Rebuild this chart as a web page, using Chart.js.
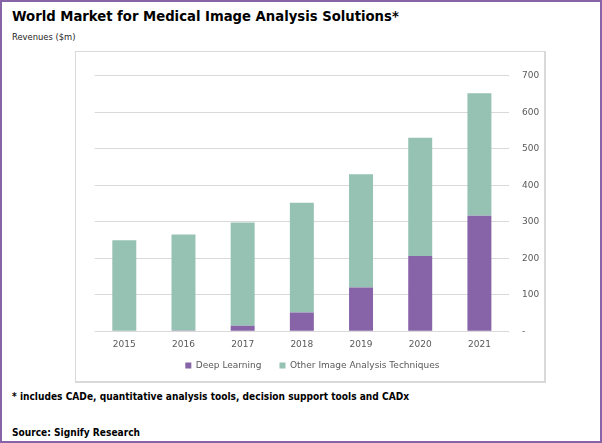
<!DOCTYPE html>
<html>
<head>
<meta charset="utf-8">
<script src="https://cdn.jsdelivr.net/npm/chart.js@4.4.1/dist/chart.umd.min.js"></script>
<style>
  html, body { margin:0; padding:0; background:#fff; }
  #frame { position:absolute; left:0; top:0; width:598px; height:439px; border:2px solid #8763a8; }
  .txt { position:absolute; white-space:nowrap; color:#000; font-family:"DejaVu Sans Condensed","DejaVu Sans",sans-serif; }
  #title { left:12px; top:7px; font-size:14.7px; font-weight:bold; line-height:18px; }
  #subtitle { left:12px; top:30px; font-size:9.3px; line-height:14px; color:#222; }
  #note { left:12px; top:390px; font-size:10.1px; font-weight:bold; line-height:14px; }
  #source { left:12px; top:426px; font-size:10.1px; font-weight:bold; line-height:14px; }
  #box { position:absolute; left:75px; top:51px; width:468px; height:329px; border:1px solid #d9d9d9; border-right:2px solid #d9d9d9; border-bottom:2px solid #d9d9d9; }
  #wrap { position:absolute; left:76px; top:52px; width:468px; height:329px; }
</style>
</head>
<body>
<div id="frame"></div>
<div class="txt" id="title">World Market for Medical Image Analysis Solutions*</div>
<div class="txt" id="subtitle">Revenues ($m)</div>
<div id="box"></div>
<div id="wrap"><canvas id="c" width="468" height="329"></canvas></div>
<div class="txt" id="note">* includes CADe, quantitative analysis tools, decision support tools and CADx</div>
<div class="txt" id="source">Source: Signify Research</div>
<script>
const years = ["2015","2016","2017","2018","2019","2020","2021"];
const deepLearning = [0, 2, 15, 51, 120, 206, 316];
const otherTechniques = [249, 263, 283, 301, 310, 324, 336];
const yTicks = [0, 100, 200, 300, 400, 500, 600, 700];

const LEGEND_PAD = 18;
const legendFix = {
  id: 'legendFix',
  beforeLayout(chart) {
    const lg = chart.legend;
    if (lg && !lg._patched) {
      const f = lg.fit;
      lg.fit = function () { f.call(this); this.height = 23; };
      lg._patched = true;
    }
  },
  afterLayout(chart) {
    const lg = chart.legend;
    if (lg) {
      lg.top -= 15; lg.bottom = lg.top + 60;
      lg.left -= 7; lg.right -= 7;
    }
  }
};

const tickFont = { family: "DejaVu Sans", size: 9 };
new Chart(document.getElementById('c'), {
  type: 'bar',
  data: {
    labels: years,
    datasets: [
      { label: 'Deep Learning', data: deepLearning, backgroundColor: '#8763a8', barPercentage: 0.405, categoryPercentage: 1 },
      { label: 'Other Image Analysis Techniques', data: otherTechniques, backgroundColor: '#96c2b3', barPercentage: 0.405, categoryPercentage: 1 }
    ]
  },
  plugins: [legendFix],
  options: {
    responsive: false,
    animation: false,
    layout: { padding: { left: 18.7, top: 23.7, right: 0, bottom: 0 } },
    plugins: {
      legend: {
        position: 'bottom',
        labels: { boxWidth: 6, boxHeight: 6, font: tickFont, color: '#595959', padding: LEGEND_PAD }
      },
      tooltip: { enabled: false }
    },
    scales: {
      x: {
        stacked: true,
        grid: { display: false, drawTicks: false },
        border: { display: false },
        ticks: { font: tickFont, color: '#595959', padding: 8 }
      },
      y: {
        stacked: true,
        position: 'right',
        min: 0, max: 700,
        afterBuildTicks: (s) => { s.ticks = yTicks.map(v => ({ value: v })); },
        afterFit: (s) => { s.width = 35; },
        grid: { color: '#d9d9d9', lineWidth: 1, drawTicks: false },
        border: { display: false },
        ticks: { font: tickFont, color: '#595959', padding: 13, callback: (v) => v === 0 ? '-' : String(v) }
      }
    }
  }
});
</script>
</body>
</html>
